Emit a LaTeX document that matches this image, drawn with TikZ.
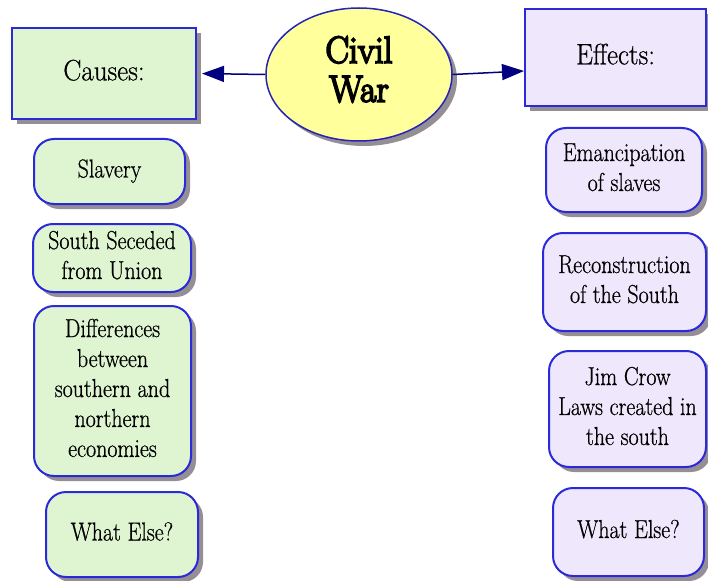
\documentclass[tikz,border=0pt]{standalone}
\usepackage{fontspec}
\setmainfont{Latin Modern Roman}[FakeBold=0.7]
\newfontfamily\civilfont{Latin Modern Roman}[FakeBold=5]
\usetikzlibrary{arrows.meta,shadows,shapes.geometric}
\definecolor{causefill}{HTML}{DFF5D2}
\definecolor{effectfill}{HTML}{EFE7FC}
\definecolor{warfill}{HTML}{FFFF9C}
\definecolor{edgeblue}{HTML}{2A2AD8}
\definecolor{arrowcol}{HTML}{000080}
\definecolor{shadowcol}{HTML}{8A8288}
\newcommand\vtext[2][1]{\scalebox{#1}[1.18]{\begin{tabular}{@{}c@{}}#2\end{tabular}}}
\begin{document}
\begin{tikzpicture}[x=1pt,y=-1pt,
  shad/.style={drop shadow={shadow xshift=5pt,shadow yshift=-5pt,fill=shadowcol,opacity=0.9}},
  headbox/.style={rectangle, draw=edgeblue, line width=2pt, shad, inner sep=0pt,
    font=\fontsize{25}{29}\selectfont, text=black},
  itembox/.style={rectangle, rounded corners=20pt, draw=edgeblue, line width=2pt, shad, inner sep=0pt,
    font=\fontsize{22}{25.4}\selectfont, text=black},
  cause/.style={fill=causefill},
  effect/.style={fill=effectfill},
  link/.style={draw=arrowcol, line width=1.5pt, -{Triangle[length=22pt,width=16pt]}}
]
\useasboundingbox (0,0) rectangle (708,580);

% central topic
\node[ellipse, draw=edgeblue!85!black, line width=1.5pt, fill=warfill, shad,
  minimum width=186pt, minimum height=133pt, inner sep=0pt,
  font=\civilfont\fontsize{32}{33}\selectfont, text=black] (war) at (359,74.5)
  {\vtext[1.1]{Civil\\War}};

% headers
\node[headbox, cause, minimum width=184pt, minimum height=91pt] (causes) at (104,73.5) {\vtext[1.08]{Causes:}};
\node[headbox, effect, minimum width=181pt, minimum height=97pt] (effects) at (615.5,57.5) {\vtext[1.08]{Effects:}};

% causes
\node[itembox, cause, minimum width=151pt, minimum height=65pt] (slavery) at (109.5,171.5) {\vtext{Slavery}};
\node[itembox, cause, minimum width=158pt, minimum height=68pt] (south) at (112,258) {\vtext{South Seceded\\from Union}};
\node[itembox, cause, minimum width=157pt, minimum height=170pt] (diff) at (112.5,391) {\vtext{Differences\\between\\southern and\\northern\\economies}};
\node[itembox, cause, minimum width=152pt, minimum height=85pt] (elseL) at (122,534.5) {\vtext{What Else?}};

% effects
\node[itembox, effect, minimum width=156pt, minimum height=84pt] (eman) at (624,170) {\vtext{Emancipation\\of slaves}};
\node[itembox, effect, minimum width=163pt, minimum height=98pt] (recon) at (624.5,282) {\vtext{Reconstruction\\of the South}};
\node[itembox, effect, minimum width=157pt, minimum height=116pt] (jim) at (627.5,409) {\vtext{Jim Crow\\Laws created in\\the south}};
\node[itembox, effect, minimum width=151pt, minimum height=88pt] (elseR) at (628.5,532) {\vtext{What Else?}};

% connectors
\draw[link, shorten >=5pt] (war.west) -- (causes.east);
\draw[link] (war.east) -- ([yshift=-13.5pt]effects.west);
\end{tikzpicture}
\end{document}
